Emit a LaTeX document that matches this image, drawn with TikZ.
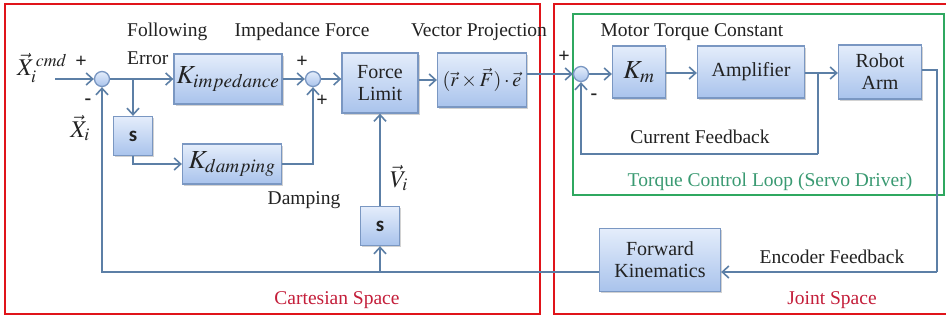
\documentclass[tikz,border=0pt]{standalone}
\usepackage{mathptmx}
\usepackage{fontspec}
\setmainfont{Liberation Serif}
\newfontfamily\sfcal{Carlito}
\usetikzlibrary{arrows.meta,shadows}
\definecolor{flowc}{HTML}{5C7FA6}
\definecolor{boxtop}{HTML}{E4EDFB}
\definecolor{boxbot}{HTML}{A9C3EC}
\definecolor{boxline}{HTML}{7A97C2}
\definecolor{redline}{HTML}{E0141A}
\definecolor{redtext}{HTML}{C41E3A}
\definecolor{greenline}{HTML}{2FA860}
\definecolor{greentext}{HTML}{3A9A72}
\definecolor{txt}{HTML}{222222}
\tikzset{
  blk/.style={draw=boxline, line width=1.3pt, top color=boxtop, bottom color=boxbot,
    drop shadow={opacity=0.35, shadow xshift=1.5pt, shadow yshift=-1.5pt},
    align=center, inner sep=0pt, text=txt, font=\fontsize{20}{22}\selectfont},
  sumc/.style={circle, draw=boxline, line width=1.3pt, top color=boxtop, bottom color=boxbot,
    minimum size=15pt, inner sep=0pt},
  flow/.style={draw=flowc, line width=1.8pt, -{Straight Barb[length=6.5pt,width=12pt,line width=1.6pt]}},
  plain/.style={draw=flowc, line width=1.8pt},
  lbl/.style={text=txt, font=\fontsize{19.5}{21}\selectfont, inner sep=0pt},
  sgn/.style={text=txt, font=\fontsize{20}{20}\selectfont\bfseries, inner sep=0pt},
  sbox/.style={blk, minimum width=39pt, minimum height=39pt, font=\sfcal\bfseries\fontsize{21}{21}\selectfont},
}
\begin{document}
\begin{tikzpicture}[x=1pt,y=-1pt]
\clip (0,0) rectangle (946,324);
\fill[white] (0,0) rectangle (946,324);
% frames
\draw[redline, line width=2.4pt] (5,4) rectangle (540,314);
\draw[redline, line width=2.4pt] (554,4) rectangle (952,314);
\draw[greenline, line width=2.4pt] (573,14) rectangle (944,195);

% blocks
\node[sumc] (sum1) at (102,79) {};
\node[blk, minimum width=108pt, minimum height=50pt] (kimp) at (228,79)
  {\fontsize{26}{26}\selectfont$K_{impedance}$};
\node[sbox] (s1) at (133,136) {s};
\node[blk, minimum width=99pt, minimum height=40pt] (kdamp) at (232,164)
  {\fontsize{26}{26}\selectfont$K_{damping}$};
\node[sumc] (sum2) at (313,79) {};
\node[blk, minimum width=76pt, minimum height=60pt] (fl) at (380,83) {Force\\Limit};
\node[blk, minimum width=89pt, minimum height=54pt] (vp) at (482,80)
  {\fontsize{20}{20}\selectfont$(\vec{r}\times\vec{F})\cdot\vec{e}$};
\node[sumc] (sum3) at (581,74) {};
\node[blk, minimum width=53pt, minimum height=52pt] (km) at (639,72)
  {\fontsize{26}{26}\selectfont$K_{m}$};
\node[blk, minimum width=107pt, minimum height=52pt] (amp) at (751,72) {Amplifier};
\node[blk, minimum width=83pt, minimum height=54pt] (robot) at (880,72) {Robot\\Arm};
\node[blk, minimum width=121pt, minimum height=63pt] (fk) at (660,260) {Forward\\Kinematics};
\node[sbox] (s2) at (380,226) {s};

% coordinates
\coordinate (in) at (55,79);
\coordinate (b1) at (133,79);
\coordinate (b2) at (818,73);
\coordinate (cf) at (818,154);
\coordinate (ro) at (937,272);
\coordinate (b3) at (380,272);

% connectors
\draw[flow] (in) -- (sum1.west);
\draw[flow] (sum1.east) -- (kimp.west |- sum1);
\draw[flow] (b1) -- (s1.north);
\draw[flow] (s1.south) |- (kdamp.west);
\draw[flow] (kimp.east |- sum2) -- (sum2.west);
\draw[flow] (kdamp.east) -| (sum2.south);
\draw[flow] (sum2.east) -- (fl.west |- sum2);
\draw[flow] (fl.east |- vp) -- (vp.west);
\draw[flow] (vp.east |- sum3) -- (sum3.west);
\draw[flow] (sum3.east) -- (km.west |- sum3);
\draw[flow] (km.east |- b2) -- (amp.west |- b2);
\draw[flow] (amp.east |- b2) -- (robot.west |- b2);
\draw[plain] (b2) -- (cf);
\draw[flow] (cf) -| (sum3.south);
\draw[plain] (robot.east |- 0,70) -| (ro);
\draw[flow] (ro) -- (ro -| fk.east);
\draw[flow] (fk.west |- ro) -| (sum1.south);
\draw[flow] (b3) -- (s2.south);
\draw[flow] (s2.north) -- (fl.south);

% labels
\node[lbl, anchor=west] (lfol) at (127,32) {Following};
\node[lbl, anchor=west] (lerr) at (127,58) {Error};
\node[lbl] (limp) at (302,32) {Impedance Force};
\node[lbl] (lvp) at (479,32) {Vector Projection};
\node[lbl] (lmtc) at (692,32) {Motor Torque Constant};
\node[lbl] (ldamp) at (304,200) {Damping};
\node[lbl] (lcur) at (700,137) {Current Feedback};
\node[lbl] (lenc) at (832,257) {Encoder Feedback};
\node[lbl, text=greentext] (ltcl) at (770,182) {Torque Control Loop (Servo Driver)};
\node[lbl, text=redtext] (lcart) at (337,300) {Cartesian Space};
\node[lbl, text=redtext] (ljoint) at (832,300) {Joint Space};
\node[lbl, font=\fontsize{24}{24}\selectfont] (lxcmd) at (42,68) {$\vec{X}_i^{\,cmd}$};
\node[lbl, font=\fontsize{24}{24}\selectfont] (lxi) at (80,128) {$\vec{X}_i$};
\node[lbl, font=\fontsize{24}{24}\selectfont] (lvi) at (399,178) {$\vec{V}_i$};
\node[sgn] (p1) at (81,62) {+};
\node[sgn] (m1) at (88,102) {-};
\node[sgn] (p2) at (302,62) {+};
\node[sgn] (p3) at (322,101) {+};
\node[sgn] (p4) at (564,57) {+};
\node[sgn] (m3) at (594,97) {-};
\end{tikzpicture}
\end{document}
